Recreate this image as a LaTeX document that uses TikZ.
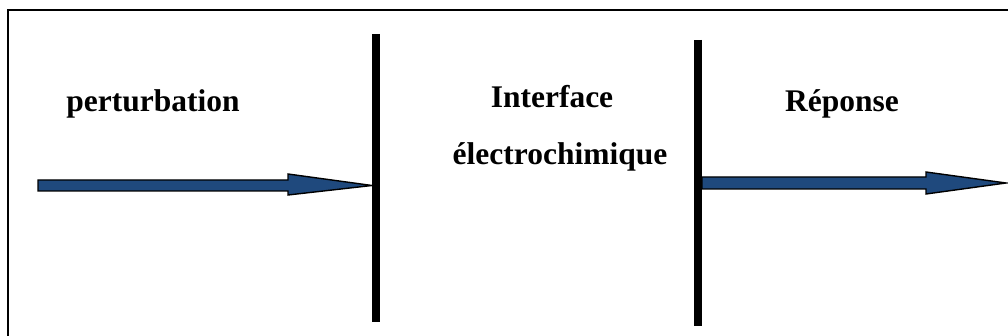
\documentclass[tikz,border=0pt]{standalone}
\usepackage{fontspec}
\setmainfont{Liberation Serif}
\definecolor{arrowblue}{RGB}{31,73,125}
\begin{document}
\begin{tikzpicture}[x=1pt,y=-1pt,
  lbl/.style={font=\fontsize{31.5}{36}\selectfont\bfseries, anchor=base, inner sep=0pt},
  bar/.style={line width=8pt},
  fatarrow/.style={fill=arrowblue, draw=black, line width=1.4pt, line join=miter},
  frame/.style={line width=2pt}]
\useasboundingbox (0,0) rectangle (1008,336);
\begin{scope}
\clip (0,0) rectangle (1008,336);
\draw[frame] (7.5,340) -- (7.5,10.5) -- (1012,10.5);
\end{scope}
% vertical bars
\coordinate (b1t) at (376,34);
\coordinate (b1b) at (376,322);
\coordinate (b2t) at (698,40);
\coordinate (b2b) at (698,326);
\draw[bar] (b1t) -- (b1b);
\draw[bar] (b2t) -- (b2b);
% arrows
\draw[fatarrow] (38,180) -- (288,180) -- (288,174) -- (372,185.5) -- (288,195) -- (288,191) -- (38,191) -- cycle;
\draw[fatarrow] (702,177) -- (926,177) -- (926,172) -- (1006,183) -- (926,194) -- (926,189) -- (702,189) -- cycle;
% labels
\node[lbl] (pert) at (153,112) {perturbation};
\node[lbl] (inter) at (552,108) {Interface};
\node[lbl] (elec) at (560,165) {électrochimique};
\node[lbl] (rep) at (842,112) {Réponse};
\end{tikzpicture}
\end{document}
